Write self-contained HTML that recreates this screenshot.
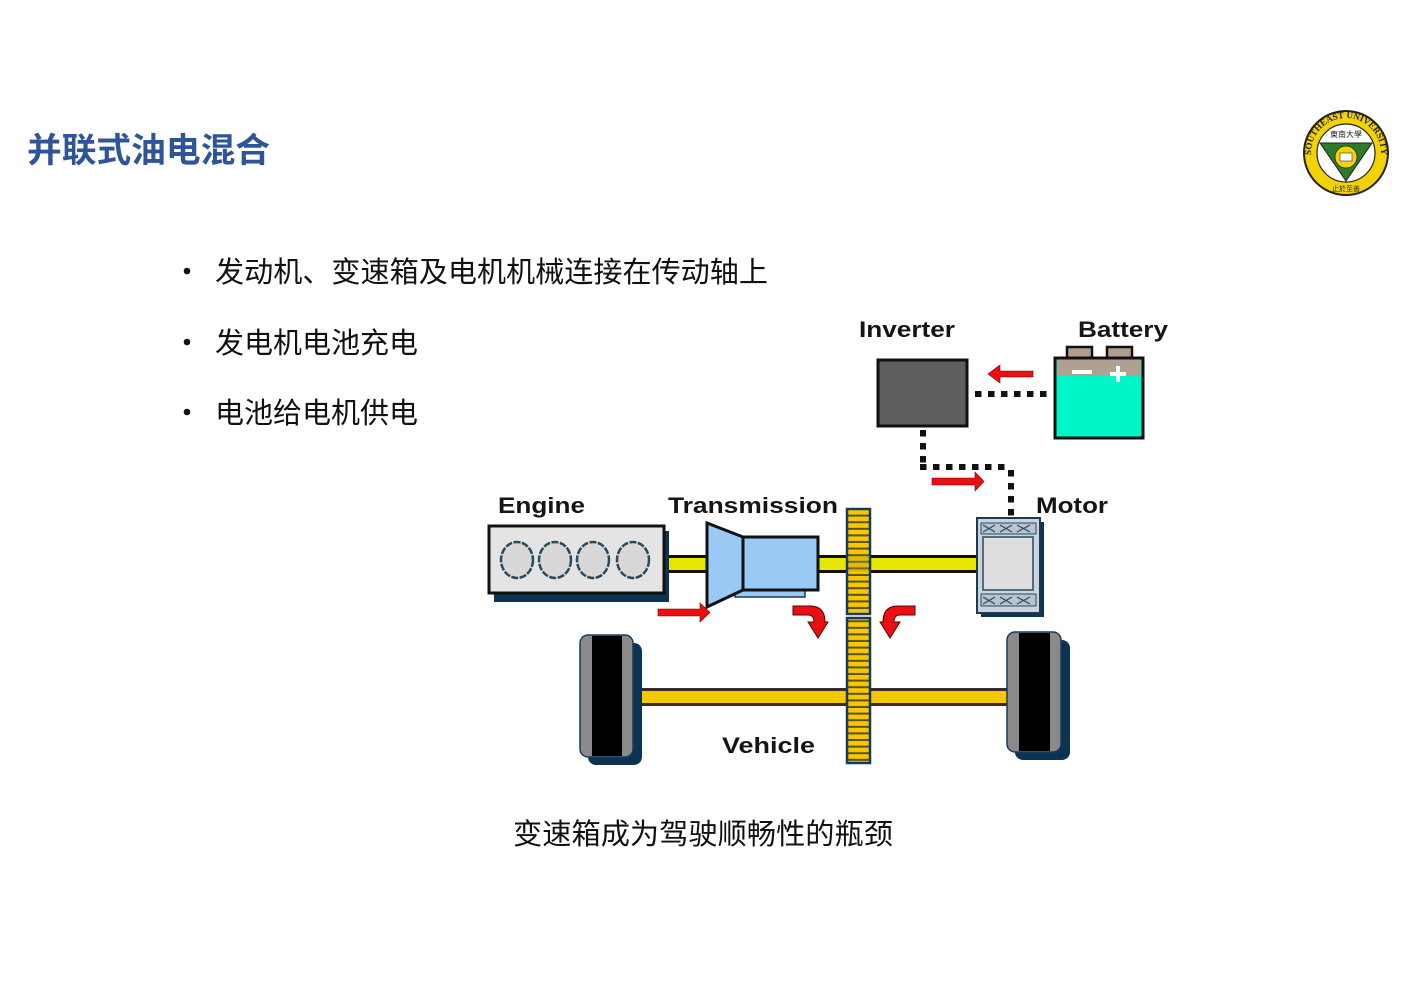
<!DOCTYPE html>
<html><head><meta charset="utf-8">
<style>html,body{margin:0;padding:0;background:#fff;}svg{display:block}</style>
</head><body>
<svg width="1403" height="992" viewBox="0 0 1403 992" xmlns="http://www.w3.org/2000/svg">
<defs>
  <pattern id="gear" x="0" y="510" width="30" height="6.6" patternUnits="userSpaceOnUse">
    <rect x="0" y="0" width="30" height="6.6" fill="#f7c800"/>
    <rect x="0" y="4.6" width="30" height="2" fill="#5a5020"/>
  </pattern>
  <path id="arcTop" d="M1311,153 A35,35 0 0 1 1381,153"/>
</defs>

<!-- Title -->
<text x="27" y="162" font-family="'Liberation Sans','Noto Sans CJK SC',sans-serif" font-weight="bold" font-size="34" fill="#2f5597" textLength="243" lengthAdjust="spacingAndGlyphs">并联式油电混合</text>

<!-- Logo -->
<g>
  <circle cx="1346" cy="153" r="42" fill="#f2d200" stroke="#222" stroke-width="2"/>
  <circle cx="1346" cy="153" r="29" fill="#fff" stroke="#222" stroke-width="1.2"/>
  <text font-family="'Liberation Serif',serif" font-size="9" font-weight="bold" fill="#222"><textPath href="#arcTop" startOffset="50%" text-anchor="middle">SOUTHEAST UNIVERSITY</textPath></text>
  <polygon points="1320,143 1372,143 1346,181" fill="#2f7a2a" stroke="#222" stroke-width="1"/>
  <circle cx="1346" cy="157" r="11" fill="#f2d200" stroke="#222" stroke-width="0.8"/>
  <rect x="1340" y="153" width="12" height="8" fill="#fff" stroke="#333" stroke-width="0.6"/>
  <text x="1346" y="137" text-anchor="middle" font-family="'Noto Sans CJK SC',sans-serif" font-size="8" fill="#222">東南大學</text>
  <text x="1346" y="191" text-anchor="middle" font-family="'Noto Sans CJK SC',sans-serif" font-size="7" fill="#222">止於至善</text>
</g>

<!-- Bullets -->
<g font-family="'Liberation Sans','Noto Sans CJK SC',sans-serif" font-size="29" fill="#111">
  <circle cx="187" cy="271" r="3.3" fill="#111"/>
  <text x="215" y="282" textLength="553" lengthAdjust="spacingAndGlyphs">发动机、变速箱及电机机械连接在传动轴上</text>
  <circle cx="187" cy="342" r="3.3" fill="#111"/>
  <text x="215" y="353" textLength="203" lengthAdjust="spacingAndGlyphs">发电机电池充电</text>
  <circle cx="187" cy="412" r="3.3" fill="#111"/>
  <text x="215" y="423" textLength="203" lengthAdjust="spacingAndGlyphs">电池给电机供电</text>
  <text x="513" y="844" textLength="380" lengthAdjust="spacingAndGlyphs">变速箱成为驾驶顺畅性的瓶颈</text>
</g>

<!-- Diagram labels -->
<g font-family="'Liberation Sans',sans-serif" font-weight="bold" font-size="22" fill="#151515">
  <text x="498" y="513" textLength="87" lengthAdjust="spacingAndGlyphs">Engine</text>
  <text x="668" y="513" textLength="170" lengthAdjust="spacingAndGlyphs">Transmission</text>
  <text x="1036" y="513" textLength="72" lengthAdjust="spacingAndGlyphs">Motor</text>
  <text x="859" y="337" textLength="96" lengthAdjust="spacingAndGlyphs">Inverter</text>
  <text x="1078" y="337" textLength="90" lengthAdjust="spacingAndGlyphs">Battery</text>
  <text x="722" y="753" textLength="93" lengthAdjust="spacingAndGlyphs">Vehicle</text>
</g>

<!-- Shafts (lemon) -->
<g>
  <rect x="662" y="555" width="48" height="18" fill="#111"/>
  <rect x="662" y="558" width="48" height="12" fill="#e6e600"/>
  <rect x="816" y="555" width="33" height="18" fill="#111"/>
  <rect x="816" y="558" width="33" height="12" fill="#e6e600"/>
  <rect x="868" y="555" width="111" height="18" fill="#111"/>
  <rect x="868" y="558" width="111" height="12" fill="#e6e600"/>
</g>

<!-- Axle -->
<rect x="640" y="688" width="370" height="18" fill="#3a2a2a"/>
<rect x="640" y="691" width="370" height="12" fill="#f5c800"/>

<!-- Engine -->
<rect x="494" y="531" width="175" height="71" fill="#0d3352"/>
<rect x="489" y="526" width="175" height="67" fill="#e4e4e4" stroke="#111" stroke-width="3"/>
<g fill="#d8d8d8" stroke="#2a4a5c" stroke-width="2.5" stroke-dasharray="7 1.5">
  <ellipse cx="517" cy="560" rx="16" ry="18"/>
  <ellipse cx="555" cy="560" rx="16" ry="18"/>
  <ellipse cx="593" cy="560" rx="16" ry="18"/>
  <ellipse cx="633" cy="560" rx="16" ry="18"/>
</g>

<!-- Transmission -->
<rect x="735" y="588" width="70" height="9" fill="#99c9f5" stroke="#1a3a5a" stroke-width="1.5"/>
<rect x="743" y="537" width="75" height="53" fill="#99c9f5" stroke="#111" stroke-width="3"/>
<polygon points="707,523 743,537 743,590 707,607" fill="#99c9f5" stroke="#111" stroke-width="3" stroke-linejoin="miter"/>

<!-- Gear -->
<rect x="847" y="509" width="23" height="105" fill="url(#gear)" stroke="#1a3a5a" stroke-width="2.5"/>
<rect x="847" y="618" width="23" height="145" fill="url(#gear)" stroke="#1a3a5a" stroke-width="2.5"/>
<rect x="849" y="556" width="19" height="16" fill="#b0a020" opacity="0.35"/>

<!-- Motor -->
<rect x="981" y="522" width="63" height="95" fill="#0d3352"/>
<rect x="977" y="518" width="63" height="95" fill="#c8d4de" stroke="#1e3a50" stroke-width="2"/>
<rect x="981" y="523" width="55" height="11" fill="#b8c4d0" stroke="#2a4a5c" stroke-width="1"/>
<path d="M983,525 L995,532 M995,525 L983,532 M1000,525 L1012,532 M1012,525 L1000,532 M1017,525 L1030,532 M1030,525 L1017,532" stroke="#2a4a5c" stroke-width="1.2"/>
<rect x="983" y="537" width="50" height="53" fill="#dedede" stroke="#2a4a5c" stroke-width="1.5"/>
<rect x="981" y="594" width="55" height="12" fill="#b8c4d0" stroke="#2a4a5c" stroke-width="1"/>
<path d="M983,597 L995,604 M995,597 L983,604 M1000,597 L1012,604 M1012,597 L1000,604 M1017,597 L1030,604 M1030,597 L1017,604" stroke="#2a4a5c" stroke-width="1.2"/>

<!-- Inverter -->
<rect x="878" y="360" width="89" height="66" fill="#5e5e5e" stroke="#111" stroke-width="3"/>

<!-- Battery -->
<rect x="1067" y="347" width="25" height="12" fill="#b0a090" stroke="#111" stroke-width="2.5"/>
<rect x="1107" y="347" width="25" height="12" fill="#b0a090" stroke="#111" stroke-width="2.5"/>
<rect x="1055" y="358" width="88" height="80" fill="#00f5c8" stroke="#111" stroke-width="3"/>
<rect x="1057" y="360" width="84" height="15" fill="#b0a090"/>
<rect x="1072" y="370" width="20" height="4" fill="#fff"/>
<rect x="1110" y="372" width="16" height="4" fill="#fff"/>
<rect x="1116" y="366" width="4" height="16" fill="#fff"/>

<!-- Dotted lines -->
<g stroke="#111" stroke-width="6" fill="none" stroke-dasharray="6.5 6.5">
  <line x1="975" y1="394" x2="1053" y2="394"/>
  <line x1="923" y1="430" x2="923" y2="463"/>
  <line x1="920" y1="467" x2="1011" y2="467"/>
  <line x1="1011" y1="470" x2="1011" y2="517"/>
</g>

<!-- Red straight arrows -->
<g fill="#e81010" stroke="#7a0000" stroke-width="0.6">
  <polygon points="658,609 700,609 700,603 710,612.5 700,622 700,616 658,616"/>
  <polygon points="1033,371 1000,371 1000,365 988,374 1000,383 1000,377 1033,377"/>
  <polygon points="932,478 975,478 975,472 984,481.5 975,491 975,485 932,485"/>
</g>

<!-- Curved red arrows -->
<g fill="#e81010" stroke="#5a0000" stroke-width="1">
  <path d="M793,606 L810,606 Q825,606 825,622 L828,622 L818,638 L808,622 L814,622 Q814,615 808,615 L793,615 Z"/>
  <path d="M915,606 L898,606 Q883,606 883,622 L880,622 L890,638 L900,622 L894,622 Q894,615 900,615 L915,615 Z"/>
</g>

<!-- Wheels -->
<g>
  <rect x="588" y="643" width="54" height="122" rx="8" fill="#0d3352"/>
  <rect x="580" y="635" width="53" height="122" rx="8" fill="#8a8a8a" stroke="#1a3a5a" stroke-width="1.5"/>
  <rect x="592" y="636" width="30" height="120" fill="#000"/>
  <rect x="1015" y="640" width="55" height="120" rx="8" fill="#0d3352"/>
  <rect x="1007" y="632" width="54" height="120" rx="8" fill="#8a8a8a" stroke="#1a3a5a" stroke-width="1.5"/>
  <rect x="1019" y="633" width="31" height="118" fill="#000"/>
</g>
</svg>
</body></html>
